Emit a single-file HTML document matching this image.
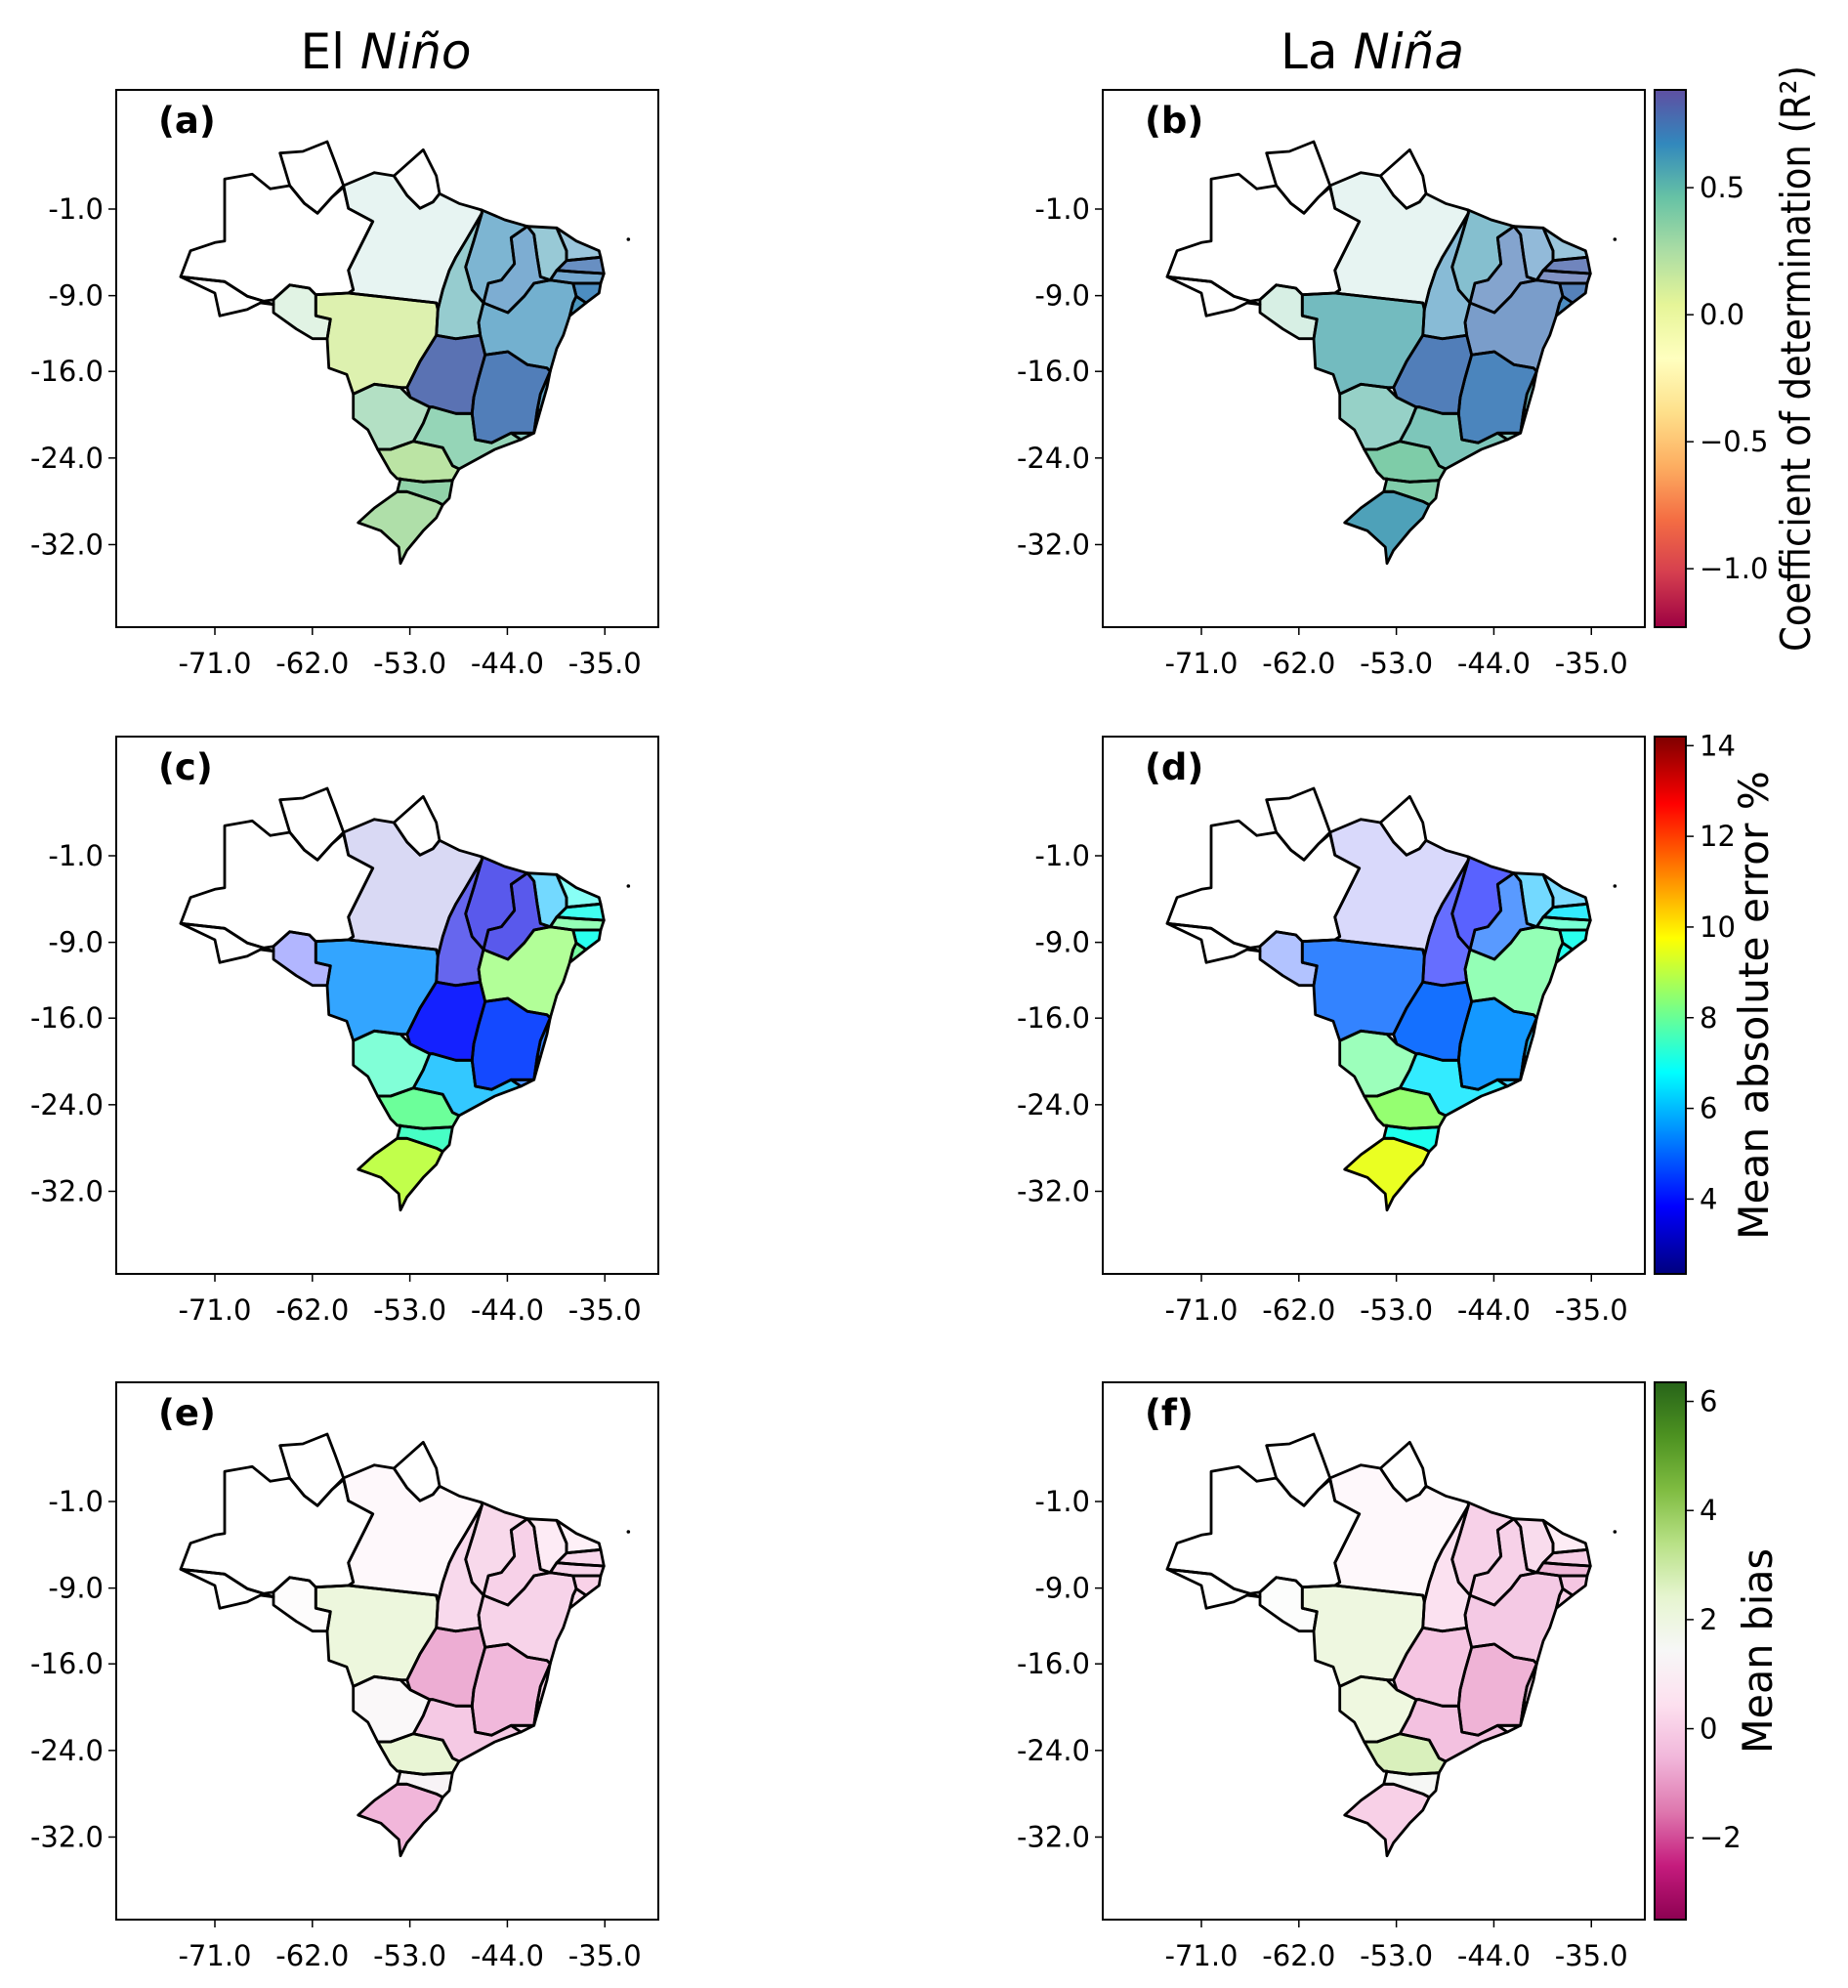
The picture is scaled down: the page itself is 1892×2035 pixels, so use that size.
<!DOCTYPE html>
<html><head><meta charset="utf-8"><style>
html,body{margin:0;padding:0;background:#fff;}
svg{display:block;font-family:"DejaVu Sans","Liberation Sans",sans-serif;}
</style></head><body>
<svg id="fig" width="1892" height="2035" viewBox="0 0 1892 2035" xmlns="http://www.w3.org/2000/svg"></svg>
<script>
// ---- data ----
const states = ["PA","RO","MT","TO","MA","PI","CE","RN","PB","PE","AL","SE","BA","GO","MG","ES","RJ","SP","MS","PR","SC","RS"];
const coverage = [0.15,0.3,0.8,0.6,0.65,0.65,0.55,0.5,0.8,0.7,0.9,0.9,0.7,0.92,0.92,0.8,0.7,0.8,0.65,0.97,0.95,0.95];
const r2ElNino = [0.5,0.3,0.1,0.55,0.65,0.7,0.6,0.65,0.75,0.7,0.7,0.65,0.65,0.8,0.75,0.65,0.5,0.4,0.35,0.2,0.35,0.25];
const r2LaNina = [0.5,0.4,0.55,0.65,0.6,0.75,0.7,0.65,0.8,0.8,0.75,0.7,0.75,0.75,0.72,0.55,0.5,0.5,0.5,0.4,0.4,0.6];
const maeElNino = [3.0,4,5.5,3.5,3.5,3.5,6,7,7,8,7,8,8.5,4,4.5,5,5,6,7.5,8,7.5,9];
const maeLaNina = [3.5,4.5,5,4,4,5,6,6,6.5,7.5,7,7,8,5,5.5,6,6,6.5,8,8.5,7,9.5];
const biasElNino = [0,1.3,2.3,-0.3,-0.2,-0.5,0.3,0.5,0,-0.3,0,0.3,-0.3,-0.8,-0.6,0,0,-0.4,1.3,2.3,1.2,-0.6];
const biasLaNina = [0,1.5,2.2,0,-0.5,-0.5,-0.3,0.3,-0.3,-1.0,-0.3,0,-0.6,-0.3,-0.7,0,0.5,-0.6,2.4,2.7,1.5,0];
const lonTicks = [-71,-62,-53,-44,-35];
const latTicks = [-1,-9,-16,-24,-32];
const r2Ticks = [0.5,0,-0.5,-1.0];
const r2TickLabels = ["0.5","0.0","\u22120.5","\u22121.0"];
const maeTicks = [14,12,10,8,6,4];
const biasTicks = [6,4,2,0,-2];
const biasTickLabels = ["6","4","2","0","\u22122"];

// ---- geometry (zoom coords) ----
const P = {
 PA:[[545,180],[640,140],[700,150],[740,210],[780,250],[820,230],[840,205],[900,235],[970,255],[970,265],[920,350],[890,400],[870,440],[850,500],[835,560],[830,540],[560,510],[575,500],[560,440],[635,290],[560,250]],
 RO:[[330,530],[380,485],[440,495],[460,515],[460,580],[505,590],[495,650],[450,650],[400,620],[330,570]],
 MT:[[460,515],[560,510],[830,540],[835,560],[830,640],[780,720],[740,800],[720,800],[640,790],[575,820],[555,760],[500,740],[495,650],[505,590],[460,580]],
 TO:[[970,265],[945,350],[920,430],[940,500],[975,540],[960,600],[965,640],[890,650],[830,640],[835,560],[850,500],[870,440],[890,400],[920,350]],
 MA:[[970,255],[1040,285],[1110,305],[1060,340],[1070,420],[1030,470],[990,480],[975,540],[940,500],[920,430],[945,350],[970,265]],
 PI:[[1110,305],[1130,330],[1140,400],[1150,460],[1180,470],[1130,480],[1100,520],[1050,570],[975,540],[990,480],[1030,470],[1070,420],[1060,340]],
 CE:[[1110,305],[1200,310],[1230,380],[1230,410],[1200,440],[1180,470],[1150,460],[1140,400],[1130,330]],
 RN:[[1200,310],[1260,350],[1330,380],[1335,400],[1230,410],[1230,380]],
 PB:[[1230,410],[1335,400],[1345,450],[1260,445],[1200,440]],
 PE:[[1200,440],[1260,445],[1345,450],[1335,480],[1250,480],[1180,470]],
 AL:[[1250,480],[1335,480],[1330,510],[1290,540],[1260,520]],
 SE:[[1260,520],[1290,540],[1240,580],[1250,540]],
 BA:[[975,540],[1050,570],[1100,520],[1130,480],[1180,470],[1250,480],[1260,520],[1250,540],[1240,580],[1220,640],[1200,680],[1180,750],[1170,740],[1110,730],[1050,690],[980,700],[965,640],[960,600]],
 GO:[[830,640],[890,650],[965,640],[980,700],[960,770],[945,830],[940,880],[890,880],[820,860],[810,860],[750,830],[740,800],[780,720]],
 MG:[[980,700],[1050,690],[1110,730],[1170,740],[1180,750],[1150,820],[1140,870],[1130,940],[1060,940],[1000,970],[950,960],[940,880],[945,830],[960,770]],
 ES:[[1180,750],[1170,800],[1150,870],[1140,870],[1150,820]],
 RJ:[[1140,870],[1150,870],[1130,940],[1090,960],[1060,940],[1130,940]],
 SP:[[810,860],[820,860],[890,880],[940,880],[950,960],[1000,970],[1060,940],[1090,960],[1010,990],[900,1050],[880,1040],[850,985],[760,965],[790,910]],
 MS:[[575,820],[640,790],[720,800],[750,830],[810,860],[790,910],[760,965],[690,990],[650,990],[620,930],[575,895]],
 PR:[[690,990],[760,965],[850,985],[880,1040],[900,1050],[880,1085],[790,1090],[710,1080],[690,1060],[650,990]],
 SC:[[710,1080],[790,1090],[880,1085],[870,1140],[850,1160],[830,1150],[740,1120],[710,1120],[720,1080]],
 RS:[[710,1120],[740,1120],[830,1150],[850,1160],[830,1200],[790,1240],[740,1300],[720,1340],[715,1290],[660,1240],[590,1215],[640,1170]],
 AM:[[45,460],[75,380],[150,355],[180,350],[180,160],[265,145],[320,190],[380,180],[425,235],[465,265],[510,215],[545,185],[560,250],[635,290],[560,440],[575,500],[560,510],[460,515],[440,495],[380,485],[330,530],[300,535],[250,520],[180,475]],
 AC:[[45,460],[180,475],[250,520],[300,535],[330,545],[290,540],[250,560],[165,580],[150,510]],
 RR:[[380,180],[350,80],[420,75],[495,45],[520,110],[545,180],[510,215],[465,265],[425,235]],
 AP:[[700,150],[790,70],[830,150],[840,205],[820,230],[780,250],[740,210]]
};

// ---- colormaps ----
const spectral=["#9e0142","#d53e4f","#f46d43","#fdae61","#fee08b","#ffffbf","#e6f598","#abdda4","#66c2a5","#3288bd","#5e4fa2"];
const jet=["#00007f","#0000ff","#007fff","#00ffff","#7fff7f","#ffff00","#ff7f00","#ff0000","#7f0000"];
const piyg=["#8e0152","#c51b7d","#de77ae","#f1b6da","#fde0ef","#f7f7f7","#e6f5d0","#b8e186","#7fbc41","#4d9221","#276419"];
function hex(h){return [1,3,5].map(i=>parseInt(h.substr(i,2),16));}
function cmap(stops,t){t=Math.max(0,Math.min(1,t));const n=stops.length-1;const i=Math.min(n-1,Math.floor(t*n));const f=t*n-i;const a=hex(stops[i]),b=hex(stops[i+1]);return "rgb("+a.map((v,k)=>Math.round(v+(b[k]-v)*f)).join(",")+")";}

const NS="http://www.w3.org/2000/svg";
const svg=document.getElementById('fig');
function el(tag,attrs,parent){const e=document.createElementNS(NS,tag);for(const k in attrs)e.setAttribute(k,attrs[k]);(parent||svg).appendChild(e);return e;}

const PW=555,PH=550;
const cols=[119,1129], rows=[92,754,1415];
const cbX=1694, cbW=32;
const scales=[
 {min:-1.23,max:0.885,stops:spectral,ticks:r2Ticks,labels:r2TickLabels,title:"Coefficient of determination (R\u00b2)",tx:1853,tlen:600,name:"r2"},
 {min:2.35,max:14.2,stops:jet,ticks:maeTicks,labels:maeTicks.map(String),title:"Mean absolute error %",tx:1810,tlen:480,name:"mae"},
 {min:-3.5,max:6.35,stops:piyg,ticks:biasTicks,labels:biasTickLabels,title:"Mean bias",tx:1814,tlen:210,name:"bias"}
];
const panelData=[[r2ElNino,r2LaNina],[maeElNino,maeLaNina],[biasElNino,biasLaNina]];
const letters=[["(a)","(b)"],["(c)","(d)"],["(e)","(f)"]];
const lonX=lon=>101+(lon+71)*11.09;
const latY=lat=>122+(-1-lat)*11.08;
function pts(arr,ox,oy){return arr.map(p=>(ox+51+p[0]/3).toFixed(1)+","+(oy+38+p[1]/3).toFixed(1)).join(" ");}

// titles
const t1=el('text',{x:395,y:70,'font-size':50,'text-anchor':'middle'});

t1.innerHTML='El <tspan font-style="italic">Niño</tspan>';
const t2=el('text',{x:1405,y:70,'font-size':50,'text-anchor':'middle'});

t2.innerHTML='La <tspan font-style="italic">Niña</tspan>';

rows.forEach((oy,ri)=>{
 const sc=scales[ri];
 cols.forEach((ox,ci)=>{
  const g=el('g',{});
  
  
  el('rect',{x:ox,y:oy,width:PW,height:PH,fill:'#fff'},g);
  const vals=panelData[ri][ci];
  states.forEach((s,i)=>{
   const t=(vals[i]-sc.min)/(sc.max-sc.min);
   const poly=el('polygon',{points:pts(P[s],ox,oy),fill:cmap(sc.stops,t),'fill-opacity':coverage[i],stroke:'none'},g);
   
   
  });
  Object.keys(P).forEach(s=>{
   const b=el('polygon',{points:pts(P[s],ox,oy),fill:'none',stroke:'#000','stroke-width':2.8,'stroke-linejoin':'round'},g);
   
   
  });
  el('circle',{cx:ox+51+1420/3,cy:oy+38+345/3,r:1.8,fill:'#000'},g);
  const fr=el('rect',{x:ox,y:oy,width:PW,height:PH,fill:'none',stroke:'#000','stroke-width':2},g);
  
  lonTicks.forEach(l=>{
   const x=ox+lonX(l);
   el('line',{x1:x,y1:oy+PH,x2:x,y2:oy+PH+8,stroke:'#000','stroke-width':1.5},g);
   const tl=el('text',{x:x,y:oy+PH+47,'font-size':29,'text-anchor':'middle'},g);
   
   tl.textContent=l.toFixed(1);
  });
  latTicks.forEach(l=>{
   const y=oy+latY(l);
   el('line',{x1:ox,y1:y,x2:ox-8,y2:y,stroke:'#000','stroke-width':1.5},g);
   const tl=el('text',{x:ox-13,y:y+10,'font-size':29,'text-anchor':'end'},g);
   
   tl.textContent=l.toFixed(1);
  });
  const pl=el('text',{x:ox+43,y:oy+44,'font-size':37,'font-weight':'bold'},g);
  
  pl.textContent=letters[ri][ci];
 });
 // colorbar
 const cg=el('g',{});
 
 
 const gid='grad'+ri;
 const defs=el('defs',{},cg);
 const lg=el('linearGradient',{id:gid,x1:0,y1:1,x2:0,y2:0},defs);
 sc.stops.forEach((c,i)=>el('stop',{offset:(i/(sc.stops.length-1)),'stop-color':c},lg));
 el('rect',{x:cbX,y:oy,width:cbW,height:PH,fill:'url(#'+gid+')',stroke:'#000','stroke-width':2},cg);
 const cy=v=>oy+PH-(v-sc.min)/(sc.max-sc.min)*PH;
 sc.ticks.forEach((v,i)=>{
  const y=cy(v);
  el('line',{x1:cbX+cbW,y1:y,x2:cbX+cbW+8,y2:y,stroke:'#000','stroke-width':1.5},cg);
  const tl=el('text',{x:cbX+cbW+14,y:y+10,'font-size':29},cg);
  
  tl.textContent=sc.labels[i];
 });
 const ty=oy+PH/2;
 const lt=el('text',{x:sc.tx,y:ty,'font-size':42,'text-anchor':'middle',transform:'rotate(-90 '+sc.tx+' '+ty+')',textLength:sc.tlen,lengthAdjust:'spacingAndGlyphs'},cg);
 
 lt.textContent=sc.title;
});
</script>
</body></html>
